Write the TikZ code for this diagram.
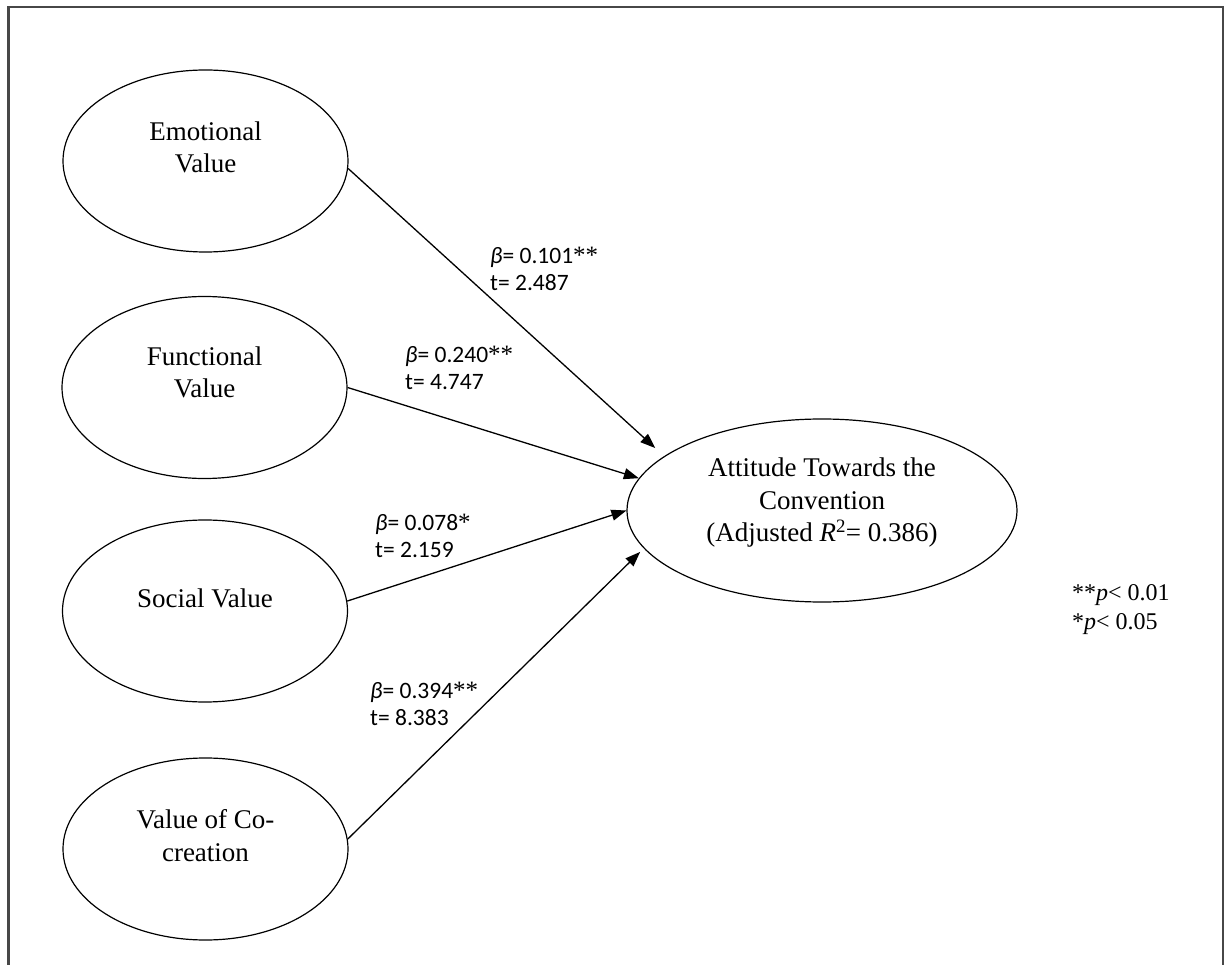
\documentclass[tikz,border=0pt]{standalone}
\usepackage{fontspec}
\setmainfont{Liberation Serif}
\newfontfamily\coeffont{Carlito}
\usetikzlibrary{shapes.geometric,arrows.meta}

% significance stars set in the serif face
\newcommand{\sigstars}[1]{{\rmfamily\fontsize{25}{27}\selectfont #1}}

\begin{document}
\begin{tikzpicture}[x=1pt,y=-1pt,
  latent/.style={ellipse, draw, line width=1.2pt, minimum width=285pt, minimum height=182pt, inner sep=0pt},
  outcome/.style={ellipse, draw, line width=1.2pt, minimum width=390pt, minimum height=183pt, inner sep=0pt},
  vtext/.style={align=center, font=\fontsize{27}{32.5}\selectfont, inner sep=0pt},
  coef/.style={align=left, anchor=west, font=\coeffont\fontsize{23.5}{27}\selectfont, inner sep=0pt},
  note/.style={align=left, anchor=west, font=\fontsize{24}{29}\selectfont, inner sep=0pt},
  effect/.style={line width=1.3pt, -{Triangle[length=15pt,width=11pt]}},
]
\useasboundingbox (0,0) rectangle (1227,965);

% outer frame, open at the bottom
\draw[draw=black!72, line width=2.5pt] (8.5,970) -- (8.5,7) -- (1223,7) -- (1223,970);

% predictor constructs
\node[latent] (emo)  at (205.5,161)   {};
\node[latent] (func) at (204.5,387.5) {};
\node[latent] (soc)  at (205,611)     {};
\node[latent] (cocr) at (205.5,849)   {};

\node[vtext] (emoT)  at ([yshift=13.5pt]emo.center)  {Emotional\\Value};
\node[vtext] (funcT) at ([yshift=15pt]func.center)   {Functional\\Value};
\node[vtext] (socT)  at ([yshift=13pt]soc.center)    {Social Value};
\node[vtext] (cocrT) at ([yshift=13.5pt]cocr.center) {Value of Co-\\creation};

% outcome construct
\node[outcome] (att) at (822,510.5) {};
\node[vtext] (attT) at ([yshift=7.5pt]att.center)
  {Attitude Towards the\\Convention\\(Adjusted \textit{R}\textsuperscript{2}= 0.386)};

% structural paths
\draw[effect, shorten >=12pt] (emo.-3) -- (att.161);
\draw[effect] (func.0) -- (att.170);
\draw[effect] (soc.4) -- (att.180);
\draw[effect, shorten >=5pt] (cocr.4) -- (att.192);

% path coefficients
\node[coef] (c1) at (490,268.5) {\textit{β}= 0.101\sigstars{**}\\t= 2.487};
\node[coef] (c2) at (405,367.5) {\textit{β}= 0.240\sigstars{**}\\t= 4.747};
\node[coef] (c3) at (375,535.5) {\textit{β}= 0.078\sigstars{*}\\t= 2.159};
\node[coef] (c4) at (370,703.5) {\textit{β}= 0.394\sigstars{**}\\t= 8.383};

% significance key
\node[note] (sig) at (1072,609.5) {**\textit{p}< 0.01\\*\textit{p}< 0.05};
\end{tikzpicture}
\end{document}
